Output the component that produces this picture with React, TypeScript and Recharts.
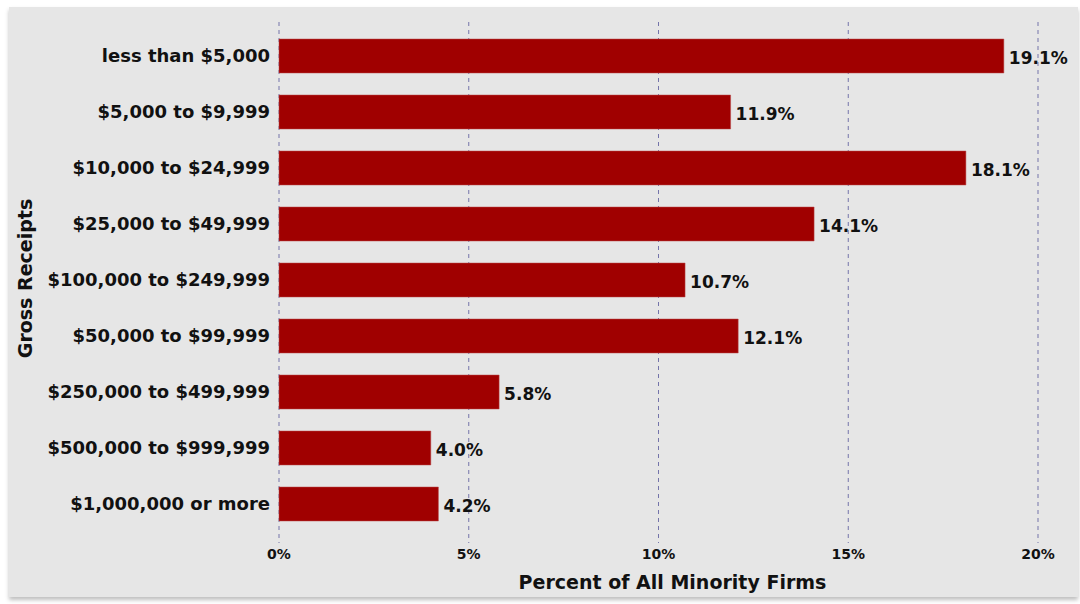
import { Bar, BarChart, CartesianGrid, LabelList, XAxis, YAxis } from "recharts";

const categories = [
  "less than $5,000",
  "$5,000 to $9,999",
  "$10,000 to $24,999",
  "$25,000 to $49,999",
  "$100,000 to $249,999",
  "$50,000 to $99,999",
  "$250,000 to $499,999",
  "$500,000 to $999,999",
  "$1,000,000 or more",
];
const percents = [19.1, 11.9, 18.1, 14.1, 10.7, 12.1, 5.8, 4.0, 4.2];
const xTicks = [0, 5, 10, 15, 20];

const data = categories.map((name, i) => ({ name, value: percents[i] }));

const font = "'DejaVu Sans', Verdana, sans-serif";

export default function App() {
  return (
    <div style={{ position: "fixed", left: 0, top: 0, width: 1080, height: 604, background: "#fff" }}>
      <div
        style={{
          position: "absolute",
          left: 9,
          top: 7,
          width: 1069,
          height: 590,
          background: "#e6e6e6",
          boxShadow: "0 3px 4px rgba(0,0,0,0.25)",
        }}
      />
      <div style={{ position: "absolute", left: 0, top: 0 }}>
        <BarChart
          width={1080}
          height={604}
          data={data}
          layout="vertical"
          margin={{ top: 22, right: 42, left: 0, bottom: 0 }}
        >
          <CartesianGrid horizontal={false} strokeDasharray="4 4" stroke="#7474aa" />
          <XAxis
            type="number"
            domain={[0, 20]}
            ticks={xTicks}
            tickFormatter={(v) => `${v}%`}
            axisLine={false}
            tickLine={false}
            tickSize={0}
            tickMargin={6}
            height={61}
            tick={{ fontSize: 14, fontWeight: "bold", fill: "#111", fontFamily: font }}
            label={{
              value: "Percent of All Minority Firms",
              position: "insideBottom",
              offset: 15,
              dx: 14,
              style: { fontSize: 19, fontWeight: "bold", fill: "#111", fontFamily: font },
            }}
          />
          <YAxis
            type="category"
            dataKey="name"
            width={279}
            axisLine={false}
            tickLine={false}
            tickSize={0}
            tickMargin={9}
            padding={{ top: 6, bottom: 11 }}
            interval={0}
            tick={{ fontSize: 18, fontWeight: "bold", fill: "#111", fontFamily: font }}
            label={{
              value: "Gross Receipts",
              angle: -90,
              position: "insideLeft",
              offset: 25,
              dy: -4,
              style: { textAnchor: "middle", fontSize: 19, fontWeight: "bold", fill: "#111", fontFamily: font },
            }}
          />
          <Bar dataKey="value" fill="#a00000" stroke="#b84a4a" strokeWidth={0.5} barSize={34} isAnimationActive={false}>
            <LabelList
              dataKey="value"
              position="right"
              offset={5}
              formatter={(v: number) => `${v.toFixed(1)}%`}
              style={{ fontSize: 17, fontWeight: "bold", fill: "#111", fontFamily: font }}
              dy={2}
            />
          </Bar>
        </BarChart>
      </div>
    </div>
  );
}
